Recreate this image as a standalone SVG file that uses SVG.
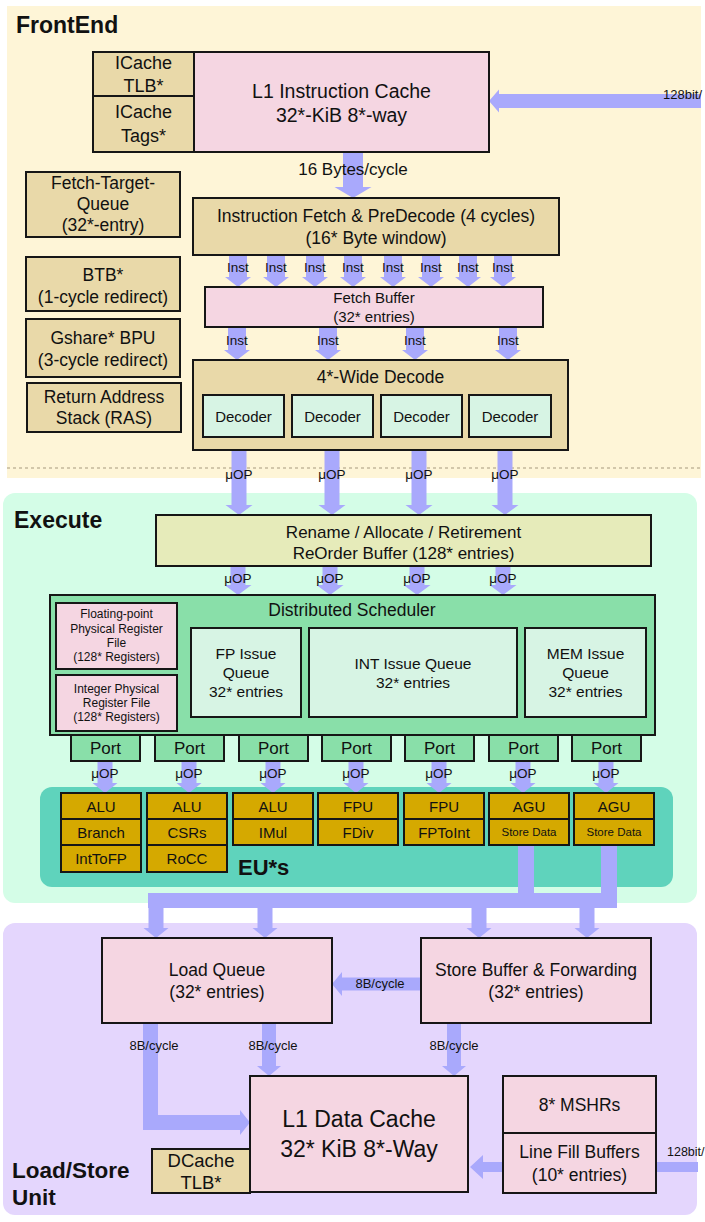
<svg xmlns="http://www.w3.org/2000/svg" width="705" height="1222" viewBox="0 0 705 1222">
<style>
  text { font-family: "Liberation Sans", Arial, sans-serif; fill: #111; text-anchor: middle; }
  .title { font-weight: bold; text-anchor: start; font-size: 23px; }
  .box { stroke: #161616; stroke-width: 2; }
  .tan { fill: #e9d9a9; }
  .pink { fill: #f5d6e2; }
  .mint { fill: #d7f4e4; }
  .green { fill: #89dfa9; }
  .gold { fill: #d5a900; }
  .rob { fill: #e6ebba; }
  .arrow { fill: #a9a9fc; stroke: none; }
  .lbl { font-size: 13.5px; }
  .bw { font-size: 13px; }
</style>

<!-- section backgrounds -->
<g id="panels">
  <rect x="7" y="6" width="694" height="472" fill="#fef5d7"/>
  <line x1="7" y1="468" x2="701" y2="468" stroke="#c4b89c" stroke-width="1.5" stroke-dasharray="3 3"/>
  <rect x="3" y="493" width="694" height="410" rx="12" fill="#d4fde7"/>
  <rect x="3" y="923" width="694" height="292" rx="12" fill="#e4d6fd"/>
  <rect x="40" y="787" width="633" height="100" rx="12" fill="#5fd3bc"/>
  <text class="title" x="16" y="33">FrontEnd</text>
  <text class="title" x="14" y="528">Execute</text>
  <text class="title" x="238" y="875" style="font-size:22px">EU*s</text>
  <text class="title" x="12" y="1178" style="font-size:22.5px">Load/Store</text>
  <text class="title" x="12" y="1205" style="font-size:22.5px">Unit</text>
</g>

<!-- connectors -->
<g id="connectors">
  <!-- 128bit refill into the I-cache -->
  <polygon class="arrow" points="701,94 499,94 499,89.5 489,101 499,112.5 499,108 701,108"/>
  <!-- I-cache to fetch -->
  <polygon class="arrow" points="343,152 363,152 363,187 371.5,187 353,198 334.5,187 343,187"/>
  <!-- fetch to fetch buffer -->
  <g>
    <polygon class="arrow" points="229,255 247,255 247,277 251,277 238,287 225,277 229,277"/>
    <polygon class="arrow" points="267,255 285,255 285,277 289,277 276,287 263,277 267,277"/>
    <polygon class="arrow" points="306,255 324,255 324,277 328,277 315,287 302,277 306,277"/>
    <polygon class="arrow" points="344,255 362,255 362,277 366,277 353,287 340,277 344,277"/>
    <polygon class="arrow" points="384,255 402,255 402,277 406,277 393,287 380,277 384,277"/>
    <polygon class="arrow" points="422,255 440,255 440,277 444,277 431,287 418,277 422,277"/>
    <polygon class="arrow" points="459,255 477,255 477,277 481,277 468,287 455,277 459,277"/>
    <polygon class="arrow" points="494,255 512,255 512,277 516,277 503,287 490,277 494,277"/>
  </g>
  <!-- fetch buffer to decode -->
  <g>
    <polygon class="arrow" points="228,327 246,327 246,350 250,350 237,360 224,350 228,350"/>
    <polygon class="arrow" points="319,327 337,327 337,350 341,350 328,360 315,350 319,350"/>
    <polygon class="arrow" points="406,327 424,327 424,350 428,350 415,360 402,350 406,350"/>
    <polygon class="arrow" points="499,327 517,327 517,350 521,350 508,360 495,350 499,350"/>
  </g>
  <!-- decode to rename -->
  <g>
    <polygon class="arrow" points="231.5,450 246.5,450 246.5,505 252.5,505 239,515 225.5,505 231.5,505"/>
    <polygon class="arrow" points="324.5,450 339.5,450 339.5,505 345.5,505 332,515 318.5,505 324.5,505"/>
    <polygon class="arrow" points="411.5,450 426.5,450 426.5,505 432.5,505 419,515 405.5,505 411.5,505"/>
    <polygon class="arrow" points="497.5,450 512.5,450 512.5,505 518.5,505 505,515 491.5,505 497.5,505"/>
  </g>
  <!-- rename to scheduler -->
  <g>
    <polygon class="arrow" points="230.5,566 245.5,566 245.5,585 251.5,585 238,595 224.5,585 230.5,585"/>
    <polygon class="arrow" points="322.5,566 337.5,566 337.5,585 343.5,585 330,595 316.5,585 322.5,585"/>
    <polygon class="arrow" points="409.5,566 424.5,566 424.5,585 430.5,585 417,595 403.5,585 409.5,585"/>
    <polygon class="arrow" points="495.5,566 510.5,566 510.5,585 516.5,585 503,595 489.5,585 495.5,585"/>
  </g>
  <!-- ports to execution units -->
  <g>
    <polygon class="arrow" points="97.5,761 112.5,761 112.5,783 117.5,783 105,793 92.5,783 97.5,783"/>
    <polygon class="arrow" points="181.5,761 196.5,761 196.5,783 201.5,783 189,793 176.5,783 181.5,783"/>
    <polygon class="arrow" points="265.5,761 280.5,761 280.5,783 285.5,783 273,793 260.5,783 265.5,783"/>
    <polygon class="arrow" points="348.5,761 363.5,761 363.5,783 368.5,783 356,793 343.5,783 348.5,783"/>
    <polygon class="arrow" points="431.5,761 446.5,761 446.5,783 451.5,783 439,793 426.5,783 431.5,783"/>
    <polygon class="arrow" points="515.5,761 530.5,761 530.5,783 535.5,783 523,793 510.5,783 515.5,783"/>
    <polygon class="arrow" points="598.5,761 613.5,761 613.5,783 618.5,783 606,793 593.5,783 598.5,783"/>
  </g>
  <!-- AGU results to the load/store queues -->
  <rect class="arrow" x="518" y="845" width="16" height="63"/>
  <rect class="arrow" x="601" y="845" width="16" height="63"/>
  <rect class="arrow" x="148" y="893" width="469" height="15"/>
  <polygon class="arrow" points="148.5,908 163.5,908 163.5,928 168.5,928 156,938 143.5,928 148.5,928"/>
  <polygon class="arrow" points="257.5,908 272.5,908 272.5,928 277.5,928 265,938 252.5,928 257.5,928"/>
  <polygon class="arrow" points="471.5,908 486.5,908 486.5,928 491.5,928 479,938 466.5,928 471.5,928"/>
  <polygon class="arrow" points="579.5,908 594.5,908 594.5,928 599.5,928 587,938 574.5,928 579.5,928"/>
  <!-- store forwarding -->
  <polygon class="arrow" points="421,977.5 342,977.5 342,972 332,984 342,996 342,990.5 421,990.5"/>
  <!-- load queue / store buffer to data cache -->
  <polygon class="arrow" points="143,1023 158,1023 158,1115 240,1115 240,1110 250,1122.5 240,1135 240,1130 143,1130"/>
  <polygon class="arrow" points="262,1023 276,1023 276,1066 281,1066 269,1076 257,1066 262,1066"/>
  <polygon class="arrow" points="447,1023 461,1023 461,1066 466,1066 454,1076 442,1066 447,1066"/>
  <!-- refill path into the data cache -->
  <polygon class="arrow" points="698,1162 483,1162 483,1155 470,1167 483,1179 483,1172 698,1172"/>

  <!-- bandwidth labels -->
  <text x="663" y="99" class="bw" style="text-anchor:start">128bit/</text>
  <text x="353" y="175" style="font-size:17px">16 Bytes/cycle</text>
  <g class="lbl">
    <text x="238" y="272">Inst</text><text x="276" y="272">Inst</text><text x="315" y="272">Inst</text><text x="353" y="272">Inst</text>
    <text x="393" y="272">Inst</text><text x="431" y="272">Inst</text><text x="468" y="272">Inst</text><text x="503" y="272">Inst</text>
    <text x="237" y="345">Inst</text><text x="328" y="345">Inst</text><text x="415" y="345">Inst</text><text x="508" y="345">Inst</text>
    <text x="239" y="479">μOP</text><text x="332" y="479">μOP</text><text x="419" y="479">μOP</text><text x="505" y="479">μOP</text>
    <text x="238" y="583">μOP</text><text x="330" y="583">μOP</text><text x="417" y="583">μOP</text><text x="503" y="583">μOP</text>
    <text x="105" y="778">μOP</text><text x="189" y="778">μOP</text><text x="273" y="778">μOP</text><text x="356" y="778">μOP</text>
    <text x="439" y="778">μOP</text><text x="523" y="778">μOP</text><text x="606" y="778">μOP</text>
  </g>
  <text x="380" y="988" class="bw">8B/cycle</text>
  <text x="154" y="1050" class="bw">8B/cycle</text>
  <text x="273" y="1050" class="bw">8B/cycle</text>
  <text x="454" y="1050" class="bw">8B/cycle</text>
  <text x="667" y="1156" class="bw" style="text-anchor:start;font-size:12.5px">128bit/</text>
</g>

<!-- front end -->
<g id="icache-tlb">
  <rect class="box tan" x="93" y="52" width="101" height="44"/>
  <text x="143.5" y="69" style="font-size:18px">ICache</text>
  <text x="143.5" y="92" style="font-size:18px">TLB*</text>
</g>
<g id="icache-tags">
  <rect class="box tan" x="93" y="96" width="101" height="56"/>
  <text x="143.5" y="118" style="font-size:18px">ICache</text>
  <text x="143.5" y="142" style="font-size:18px">Tags*</text>
</g>
<g id="l1-icache">
  <rect class="box pink" x="194" y="52" width="295" height="100"/>
  <text x="341.5" y="98" style="font-size:19.5px">L1 Instruction Cache</text>
  <text x="341.5" y="122" style="font-size:19.5px">32*-KiB 8*-way</text>
</g>
<g id="ftq" style="font-size:17.5px">
  <rect class="box tan" x="26" y="172" width="154" height="65"/>
  <text x="103" y="189">Fetch-Target-</text>
  <text x="103" y="210">Queue</text>
  <text x="103" y="231">(32*-entry)</text>
</g>
<g id="btb" style="font-size:17.5px">
  <rect class="box tan" x="26" y="257" width="154" height="54"/>
  <text x="103" y="281">BTB*</text>
  <text x="103" y="303">(1-cycle redirect)</text>
</g>
<g id="bpu" style="font-size:17.5px">
  <rect class="box tan" x="26" y="319" width="154" height="58"/>
  <text x="103" y="344">Gshare* BPU</text>
  <text x="103" y="366">(3-cycle redirect)</text>
</g>
<g id="ras" style="font-size:17.5px">
  <rect class="box tan" x="27" y="383" width="154" height="49"/>
  <text x="104" y="403">Return Address</text>
  <text x="104" y="424">Stack (RAS)</text>
</g>
<g id="fetch" style="font-size:17.5px">
  <rect class="box tan" x="193" y="198" width="366" height="57"/>
  <text x="376" y="222">Instruction Fetch &amp; PreDecode (4 cycles)</text>
  <text x="376" y="244">(16* Byte window)</text>
</g>
<g id="fetch-buffer" style="font-size:15px">
  <rect class="box pink" x="205" y="287" width="338" height="40"/>
  <text x="374" y="303">Fetch Buffer</text>
  <text x="374" y="322">(32* entries)</text>
</g>
<g id="decode">
  <rect class="box tan" x="193" y="360" width="375" height="90"/>
  <text x="380.5" y="383" style="font-size:17.5px">4*-Wide Decode</text>
  <g style="font-size:15px">
    <rect class="box mint" x="203" y="395" width="81" height="42"/>
    <text x="243.5" y="422">Decoder</text>
    <rect class="box mint" x="292" y="395" width="81" height="42"/>
    <text x="332.5" y="422">Decoder</text>
    <rect class="box mint" x="381" y="395" width="81" height="42"/>
    <text x="421.5" y="422">Decoder</text>
    <rect class="box mint" x="469" y="395" width="82" height="42"/>
    <text x="510" y="422">Decoder</text>
  </g>
</g>

<!-- execute -->
<g id="rob" style="font-size:17px">
  <rect class="box rob" x="156" y="515" width="495" height="51"/>
  <text x="403.5" y="538">Rename / Allocate / Retirement</text>
  <text x="403.5" y="559">ReOrder Buffer (128* entries)</text>
</g>
<g id="scheduler">
  <rect class="box green" x="50" y="595" width="605" height="140" stroke-width="2.5"/>
  <text x="352" y="616" style="font-size:17.5px">Distributed Scheduler</text>
</g>
<g id="fp-prf" style="font-size:12px">
  <rect class="box pink" x="56" y="603" width="121" height="66"/>
  <text x="116.5" y="618">Floating-point</text>
  <text x="116.5" y="633">Physical Register</text>
  <text x="116.5" y="647">File</text>
  <text x="116.5" y="661">(128* Registers)</text>
</g>
<g id="int-prf" style="font-size:12px">
  <rect class="box pink" x="56" y="675" width="121" height="56"/>
  <text x="116.5" y="693">Integer Physical</text>
  <text x="116.5" y="707">Register File</text>
  <text x="116.5" y="721">(128* Registers)</text>
</g>
<g id="fp-iq" style="font-size:15.5px">
  <rect class="box mint" x="191" y="628" width="110" height="89"/>
  <text x="246" y="659">FP Issue</text>
  <text x="246" y="678">Queue</text>
  <text x="246" y="697">32* entries</text>
</g>
<g id="int-iq" style="font-size:15.5px">
  <rect class="box mint" x="309" y="628" width="208" height="89"/>
  <text x="413" y="669">INT Issue Queue</text>
  <text x="413" y="688">32* entries</text>
</g>
<g id="mem-iq" style="font-size:15.5px">
  <rect class="box mint" x="525" y="628" width="121" height="89"/>
  <text x="585.5" y="659">MEM Issue</text>
  <text x="585.5" y="678">Queue</text>
  <text x="585.5" y="697">32* entries</text>
</g>
<g id="ports" style="font-size:17px">
  <g id="port-0"><rect class="box green" x="71" y="735" width="69" height="26"/><text x="105.5" y="754">Port</text></g>
  <g id="port-1"><rect class="box green" x="155" y="735" width="69" height="26"/><text x="189.5" y="754">Port</text></g>
  <g id="port-2"><rect class="box green" x="239" y="735" width="69" height="26"/><text x="273.5" y="754">Port</text></g>
  <g id="port-3"><rect class="box green" x="322" y="735" width="69" height="26"/><text x="356.5" y="754">Port</text></g>
  <g id="port-4"><rect class="box green" x="405" y="735" width="69" height="26"/><text x="439.5" y="754">Port</text></g>
  <g id="port-5"><rect class="box green" x="489" y="735" width="69" height="26"/><text x="523.5" y="754">Port</text></g>
  <g id="port-6"><rect class="box green" x="572" y="735" width="69" height="26"/><text x="606.5" y="754">Port</text></g>
</g>
<g id="eu-0" style="font-size:15px">
  <rect class="box gold" x="61" y="793" width="80" height="26"/><text x="101" y="812">ALU</text>
  <rect class="box gold" x="61" y="819" width="80" height="26"/><text x="101" y="838">Branch</text>
  <rect class="box gold" x="61" y="845" width="80" height="27"/><text x="101" y="864">IntToFP</text>
</g>
<g id="eu-1" style="font-size:15px">
  <rect class="box gold" x="147" y="793" width="80" height="26"/><text x="187" y="812">ALU</text>
  <rect class="box gold" x="147" y="819" width="80" height="26"/><text x="187" y="838">CSRs</text>
  <rect class="box gold" x="147" y="845" width="80" height="27"/><text x="187" y="864">RoCC</text>
</g>
<g id="eu-2" style="font-size:15px">
  <rect class="box gold" x="233" y="793" width="80" height="26"/><text x="273" y="812">ALU</text>
  <rect class="box gold" x="233" y="819" width="80" height="26"/><text x="273" y="838">IMul</text>
</g>
<g id="eu-3" style="font-size:15px">
  <rect class="box gold" x="318" y="793" width="80" height="26"/><text x="358" y="812">FPU</text>
  <rect class="box gold" x="318" y="819" width="80" height="26"/><text x="358" y="838">FDiv</text>
</g>
<g id="eu-4" style="font-size:15px">
  <rect class="box gold" x="404" y="793" width="80" height="26"/><text x="444" y="812">FPU</text>
  <rect class="box gold" x="404" y="819" width="80" height="26"/><text x="444" y="838">FPToInt</text>
</g>
<g id="eu-5" style="font-size:15px">
  <rect class="box gold" x="489" y="793" width="80" height="26"/><text x="529" y="812">AGU</text>
  <rect class="box gold" x="489" y="819" width="80" height="26"/><text x="529" y="836" style="font-size:11.5px">Store Data</text>
</g>
<g id="eu-6" style="font-size:15px">
  <rect class="box gold" x="574" y="793" width="80" height="26"/><text x="614" y="812">AGU</text>
  <rect class="box gold" x="574" y="819" width="80" height="26"/><text x="614" y="836" style="font-size:11.5px">Store Data</text>
</g>

<!-- load/store unit -->
<g id="load-queue" style="font-size:17.5px">
  <rect class="box pink" x="102" y="938" width="230" height="85"/>
  <text x="217" y="976">Load Queue</text>
  <text x="217" y="998">(32* entries)</text>
</g>
<g id="store-buffer" style="font-size:17.5px">
  <rect class="box pink" x="421" y="938" width="230" height="85"/>
  <text x="536" y="976">Store Buffer &amp; Forwarding</text>
  <text x="536" y="998">(32* entries)</text>
</g>
<g id="l1-dcache" style="font-size:23px">
  <rect class="box pink" x="250" y="1076" width="218" height="116"/>
  <text x="359" y="1127">L1 Data Cache</text>
  <text x="359" y="1157">32* KiB 8*-Way</text>
</g>
<g id="dcache-tlb" style="font-size:18.5px">
  <rect class="box tan" x="152" y="1149" width="98" height="44"/>
  <text x="201" y="1167">DCache</text>
  <text x="201" y="1189">TLB*</text>
</g>
<g id="mshrs" style="font-size:17.5px">
  <rect class="box pink" x="503" y="1076" width="153" height="57"/>
  <text x="579.5" y="1111">8* MSHRs</text>
</g>
<g id="line-fill-buffers" style="font-size:17.5px">
  <rect class="box pink" x="503" y="1133" width="153" height="60"/>
  <text x="579.5" y="1158">Line Fill Buffers</text>
  <text x="579.5" y="1181">(10* entries)</text>
</g>
</svg>
